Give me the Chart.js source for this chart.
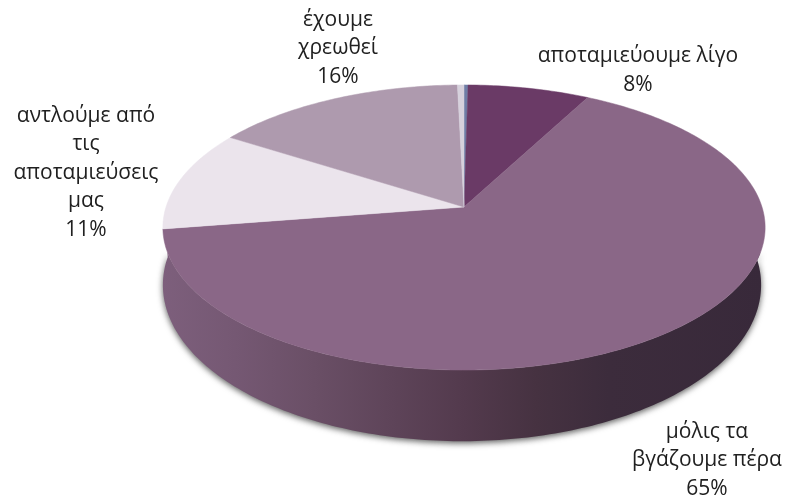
<!DOCTYPE html>
<html>
<head>
<meta charset="utf-8">
<style>html,body{margin:0;padding:0;background:#fff}#box{position:relative;width:787px;height:499px}</style>
<script src="https://cdn.jsdelivr.net/npm/chart.js@4/dist/chart.umd.min.js"></script>
</head>
<body>
<div id="box"><canvas id="c" width="787" height="499"></canvas></div>
<script>
const categories = ["", "αποταμιεύουμε λίγο", "μόλις τα βγάζουμε πέρα", "αντλούμε από τις αποταμιεύσεις μας", "έχουμε χρεωθεί", ""];
const values = [0.25, 7.5, 64.8, 11.45, 15.6, 0.4];
const colors = ["#6f7ea6", "#6a3a66", "#8a6787", "#ebe4ec", "#ae9aae", "#d6d1dc"];
const percentText = ["", "8%", "65%", "11%", "16%", ""];
const labelLines = [[], ["αποταμιεύουμε λίγο"], ["μόλις τα", "βγάζουμε πέρα"], ["αντλούμε από", "τις", "αποταμιεύσεις", "μας"], ["έχουμε", "χρεωθεί"], []];
const labelBottoms = [0, 85, 489, 230, 77, 0];
const labelCenters = [0, 638, 707, 86, 338, 0];
const LINE = 28.6;

function project(el, a, rxPx, ryPx, dx, dy) {
  const t = a + Math.PI / 2, k = 0.1438;
  const w = 1 + k * Math.cos(t);
  return [el.x + dx + rxPx * Math.sin(t) / w, el.y + dy - ryPx * Math.cos(t) / w];
}
function rim(ctx, el, a0, a1, rxPx, ryPx, dx, dy, first) {
  const n = Math.max(2, Math.ceil(Math.abs(a1 - a0) * 60));
  for (let i = 0; i <= n; i++) {
    const p = project(el, a0 + (a1 - a0) * i / n, rxPx, ryPx, dx, dy);
    if (i === 0 && first) ctx.moveTo(p[0], p[1]); else ctx.lineTo(p[0], p[1]);
  }
}
const pie3d = {
  id: "pie3d",
  beforeDatasetsDraw(chart) {
    const ctx = chart.ctx, arcs = chart.getDatasetMeta(0).data;
    const g = ctx.createLinearGradient(163, 0, 765, 0);
    g.addColorStop(0, "#7d5f7c"); g.addColorStop(0.12, "#755873"); g.addColorStop(0.25, "#6a4f66");
    g.addColorStop(0.38, "#5e4459"); g.addColorStop(0.5, "#533a4d"); g.addColorStop(0.62, "#463241");
    g.addColorStop(0.74, "#3c2c3c"); g.addColorStop(1, "#38293a");
    const el = arcs[0];
    const deg = Math.PI / 180, top = -Math.PI / 2;
    ctx.save();
    ctx.beginPath();
    rim(ctx, el, top + 108 * deg, top + 252 * deg, 298, 139.6, 0, 0, true);
    rim(ctx, el, top + 272 * deg, top + 88 * deg, 296, 153, -2, 55.5, false);
    ctx.closePath();
    ctx.shadowColor = "rgba(40,40,40,0.75)"; ctx.shadowBlur = 6; ctx.shadowOffsetY = 2;
    ctx.fillStyle = g; ctx.fill();
    ctx.restore();
    arcs.forEach((el, i) => {
      ctx.save();
      ctx.beginPath();
      ctx.moveTo(el.x, el.y);
      rim(ctx, el, el.startAngle, el.endAngle, 298, 139.6, 0, 0, false);
      ctx.closePath();
      ctx.fillStyle = colors[i]; ctx.strokeStyle = colors[i]; ctx.lineWidth = 0.5;
      ctx.fill(); ctx.stroke();
      ctx.restore();
    });
    return false;
  },
  afterDraw(chart) {
    const ctx = chart.ctx;
    ctx.save();
    ctx.fillStyle = "#202020";
    ctx.font = '21px "Open Sans"';
    ctx.textAlign = "center"; ctx.textBaseline = "middle";
    labelLines.forEach((lines, i) => {
      if (!percentText[i]) return;
      const all = lines.concat(percentText[i]);
      all.forEach((s, j) => ctx.fillText(s, labelCenters[i], labelBottoms[i] - (all.length - 1 - j) * LINE));
    });
    ctx.restore();
  }
};
new Chart(document.getElementById("c"), {
  type: "pie",
  data: { labels: categories, datasets: [{ data: values, backgroundColor: colors, borderWidth: 0 }] },
  options: {
    responsive: false, animation: false,
    layout: { padding: { left: 141, right: 0, top: 0, bottom: 85 } },
    plugins: { legend: { display: false }, tooltip: { enabled: false } }
  },
  plugins: [pie3d]
});
</script>
</body>
</html>
